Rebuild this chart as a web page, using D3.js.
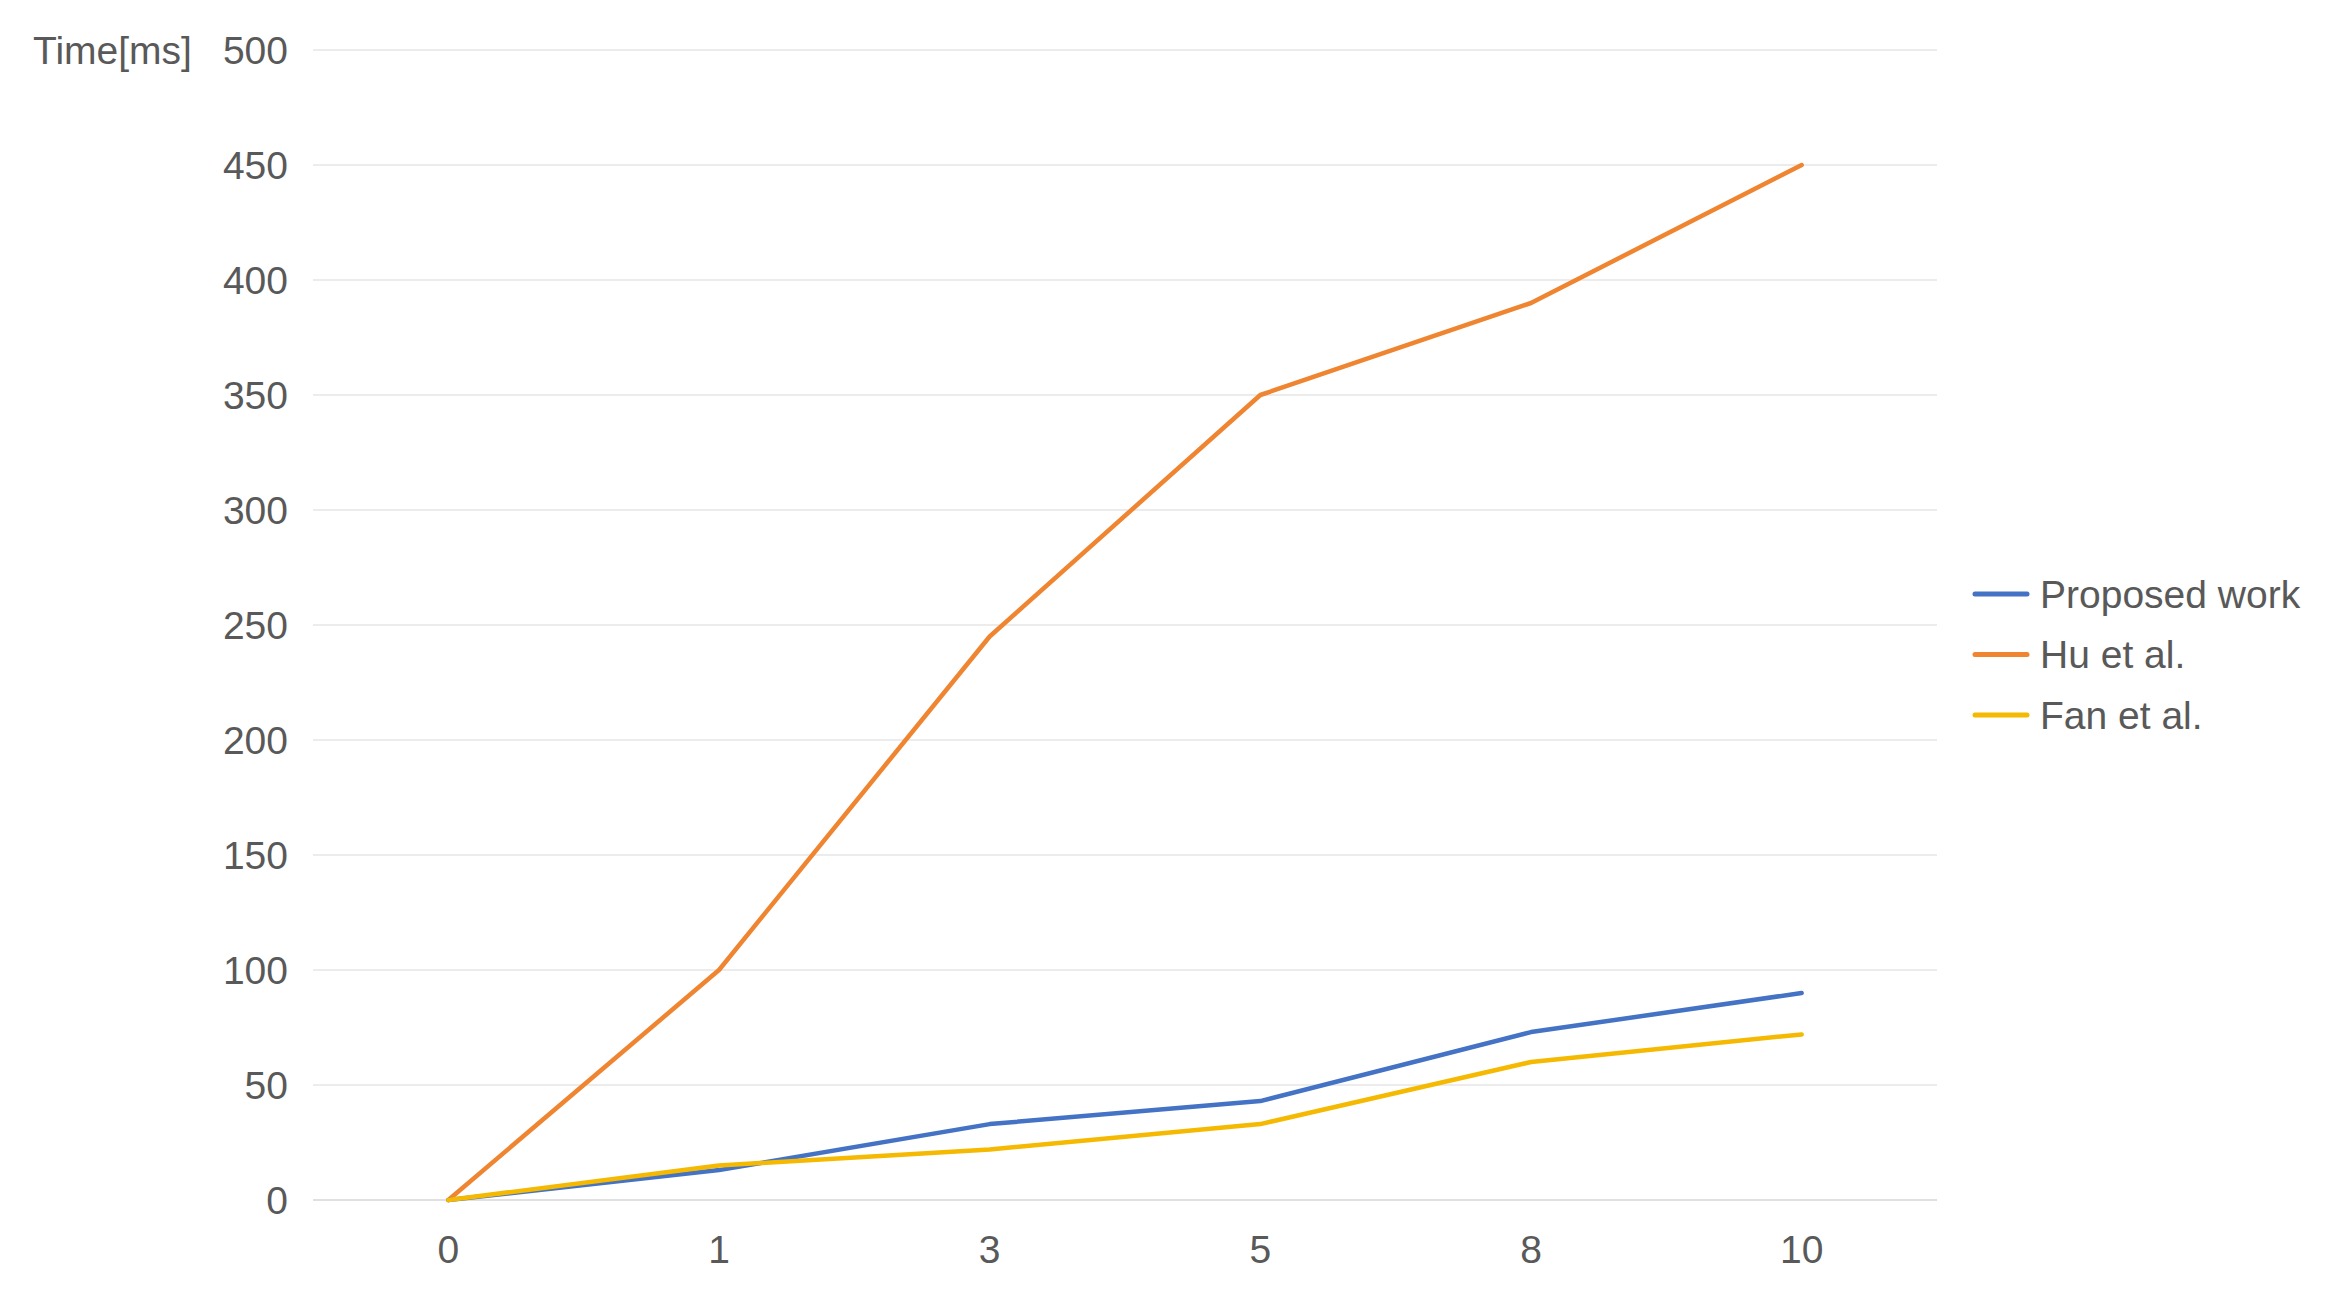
<!DOCTYPE html>
<html>
<head>
<meta charset="utf-8">
<script src="https://cdn.jsdelivr.net/npm/d3@7"></script>
<style>
  body { margin: 0; background: #fff; }
  svg { display: block; font-family: "Liberation Sans", Arial, sans-serif; }
</style>
</head>
<body>
<svg class="chart" width="2326" height="1314"></svg>
<script>
// data
const categories = ["0", "1", "3", "5", "8", "10"];
const yTicks = [0, 50, 100, 150, 200, 250, 300, 350, 400, 450, 500];
const proposedWork = [0, 13, 33, 43, 73, 90];
const huEtAl = [0, 100, 245, 350, 390, 450];
const fanEtAl = [0, 15, 22, 33, 60, 72];

const seriesNames = ["Proposed work", "Hu et al.", "Fan et al."];
const seriesColors = ["#4472c4", "#ef8530", "#f4b900"];

// config
const width = 2326;
const height = 1314;
const plotLeft = 313;
const plotRight = 1937;
const plotTop = 50;
const plotBottom = 1200;
const textColor = "#595959";
const fontSize = 39;

const svg = d3.select("svg.chart");

const x = d3.scaleBand()
  .domain(categories)
  .range([plotLeft, plotRight]);

const y = d3.scaleLinear()
  .domain([0, 500])
  .range([plotBottom, plotTop]);

// gridlines
svg.append("g")
  .attr("class", "grid")
  .selectAll("line")
  .data(yTicks)
  .enter()
  .append("line")
  .attr("x1", plotLeft)
  .attr("x2", plotRight)
  .attr("y1", d => y(d))
  .attr("y2", d => y(d))
  .attr("stroke", d => d === 0 ? "#d6d6d6" : "#e6e6e6")
  .attr("stroke-width", 1.6);

// y axis labels
const yAxis = d3.axisLeft(y).tickValues(yTicks).tickSize(0).tickPadding(0);
const gY = svg.append("g")
  .attr("transform", translate(288, 0))
  .call(yAxis);
gY.select(".domain").remove();
gY.selectAll("text")
  .attr("fill", textColor)
  .attr("font-size", fontSize)
  .attr("font-family", "Liberation Sans, Arial, sans-serif")
  .attr("dy", "0.35em");

// x axis labels
const xAxis = d3.axisBottom(x).tickSize(0).tickPadding(0);
const gX = svg.append("g")
  .attr("transform", translate(0, 1235))
  .call(xAxis);
gX.select(".domain").remove();
gX.selectAll("text")
  .attr("fill", textColor)
  .attr("font-size", fontSize)
  .attr("font-family", "Liberation Sans, Arial, sans-serif")
  .attr("dy", "0.71em");

// y axis title
svg.append("text")
  .attr("x", 33)
  .attr("y", 50)
  .attr("dy", "0.35em")
  .attr("fill", textColor)
  .attr("font-size", fontSize)
  .text("Time[ms]");

// lines
const series = [
  { name: seriesNames[1], values: huEtAl, color: seriesColors[1] },
  { name: seriesNames[0], values: proposedWork, color: seriesColors[0] },
  { name: seriesNames[2], values: fanEtAl, color: seriesColors[2] },
];

const line = d3.line()
  .x((d, i) => x(categories[i]) + x.bandwidth() / 2)
  .y(d => y(d));

svg.append("g")
  .attr("class", "lines")
  .selectAll("path")
  .data(series)
  .enter()
  .append("path")
  .attr("d", s => line(s.values))
  .attr("fill", "none")
  .attr("stroke", s => s.color)
  .attr("stroke-width", 4.5)
  .attr("stroke-linejoin", "round")
  .attr("stroke-linecap", "round");

// legend
const legend = svg.append("g")
  .attr("class", "legend")
  .attr("transform", translate(1975, 594));

const item = legend.selectAll("g.item")
  .data(seriesNames)
  .enter()
  .append("g")
  .attr("class", "item")
  .attr("transform", (d, i) => translate(0, i * 60.5));

item.append("line")
  .attr("x1", 0)
  .attr("x2", 52)
  .attr("y1", 0)
  .attr("y2", 0)
  .attr("stroke", (d, i) => seriesColors[i])
  .attr("stroke-width", 5)
  .attr("stroke-linecap", "round");

item.append("text")
  .attr("x", 65)
  .attr("y", 0)
  .attr("dy", "0.35em")
  .attr("fill", textColor)
  .attr("font-size", fontSize)
  .text(d => d);

function translate(x, y) {
  return `translate(${x}, ${y})`;
}
</script>
</body>
</html>
